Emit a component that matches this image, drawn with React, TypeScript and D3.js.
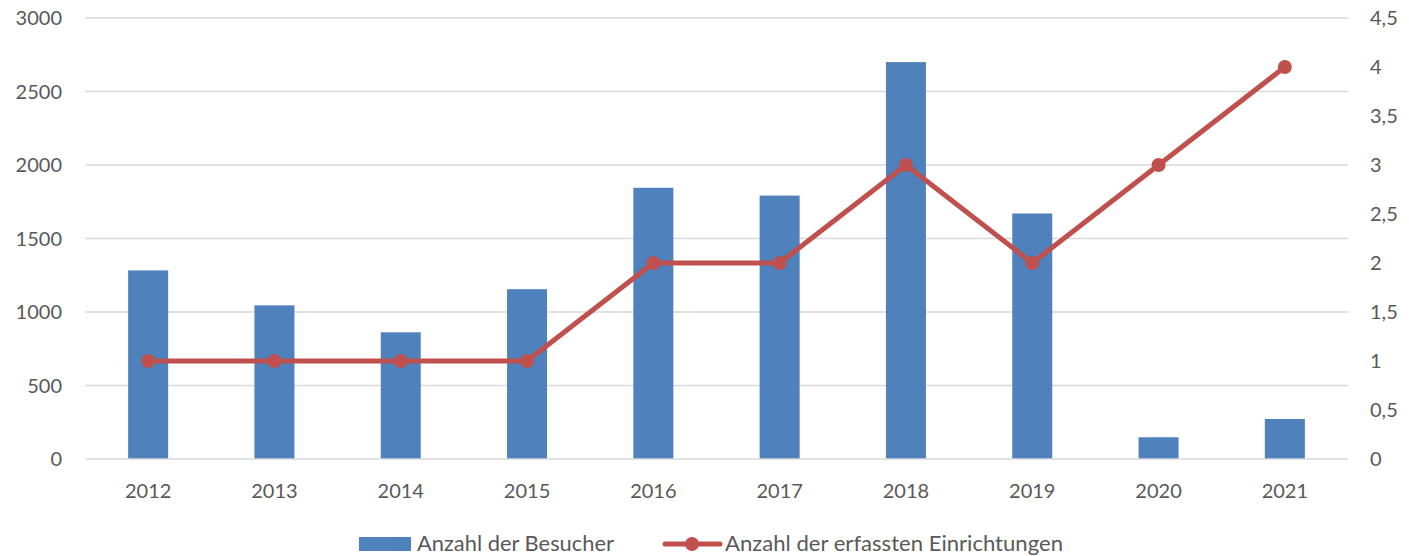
import React from "react";
import * as d3 from "d3";

const years = ["2012", "2013", "2014", "2015", "2016", "2017", "2018", "2019", "2020", "2021"];
const visitors = [1283, 1045, 862, 1155, 1845, 1792, 2700, 1670, 148, 272];
const facilities = [1, 1, 1, 1, 2, 2, 3, 2, 3, 4];
const leftTicks = [0, 500, 1000, 1500, 2000, 2500, 3000];
const rightTicks = [0, 0.5, 1, 1.5, 2, 2.5, 3, 3.5, 4, 4.5];

const W = 1409;
const H = 556;
const left = 85, right = 1348, top = 18, bottom = 459;
const font = "Lato, 'Open Sans', sans-serif";
const textColor = "#595959";

const fmt = (v: number) => String(v).replace(".", ",");

export default function App() {
  const x = d3.scaleBand<string>().domain(years).range([left, right]);
  const y = d3.scaleLinear().domain([0, 3000]).range([bottom, top]);
  const y2 = d3.scaleLinear().domain([0, 4.5]).range([bottom, top]);
  const barW = 40;
  const cx = (yr: string) => (x(yr) as number) + x.bandwidth() / 2;

  const line = d3
    .line<number>()
    .x((_, i) => cx(years[i]))
    .y((d) => y2(d));

  return (
    <svg width={W} height={H} style={{ position: "absolute", left: 0, top: 0 }}>
      <rect width={W} height={H} fill="#fff" />
      {leftTicks.map((t) => (
        <g key={t}>
          {t > 0 && <line x1={left} x2={right} y1={y(t)} y2={y(t)} stroke="#d9d9d9" strokeWidth={1.5} />}
          <text x={62} y={y(t)} dy="0.35em" textAnchor="end" fontFamily={font} fontSize={20} fill={textColor}>
            {t}
          </text>
        </g>
      ))}
      {rightTicks.map((t) => (
        <text key={t} x={1370} y={y2(t)} dy="0.35em" textAnchor="start" fontFamily={font} fontSize={20} fill={textColor}>
          {fmt(t)}
        </text>
      ))}
      {years.map((yr, i) => (
        <rect key={yr} x={cx(yr) - barW / 2} y={y(visitors[i])} width={barW} height={bottom - y(visitors[i])} fill="#4F81BD" />
      ))}
      <line x1={left} x2={right} y1={bottom} y2={bottom} stroke="#d9d9d9" strokeWidth={1.5} />
      {years.map((yr) => (
        <text key={yr} x={cx(yr)} y={491} dy="0.35em" textAnchor="middle" fontFamily={font} fontSize={20} fill={textColor}>
          {yr}
        </text>
      ))}
      <path d={line(facilities) || ""} fill="none" stroke="#C0504D" strokeWidth={5} strokeLinejoin="round" />
      {facilities.map((v, i) => (
        <circle key={i} cx={cx(years[i])} cy={y2(v)} r={7} fill="#C0504D" />
      ))}
      <g fontFamily={font} fontSize={21} fill={textColor}>
        <rect x={359} y={537} width={52} height={14} fill="#4F81BD" />
        <text x={417} y={544} dy="0.35em" textLength={197} lengthAdjust="spacingAndGlyphs">Anzahl der Besucher</text>
        <line x1={665} x2={720} y1={544} y2={544} stroke="#C0504D" strokeWidth={5} strokeLinecap="round" />
        <circle cx={692} cy={544} r={7} fill="#C0504D" />
        <text x={725} y={544} dy="0.35em" textLength={338} lengthAdjust="spacingAndGlyphs">Anzahl der erfassten Einrichtungen</text>
      </g>
    </svg>
  );
}
